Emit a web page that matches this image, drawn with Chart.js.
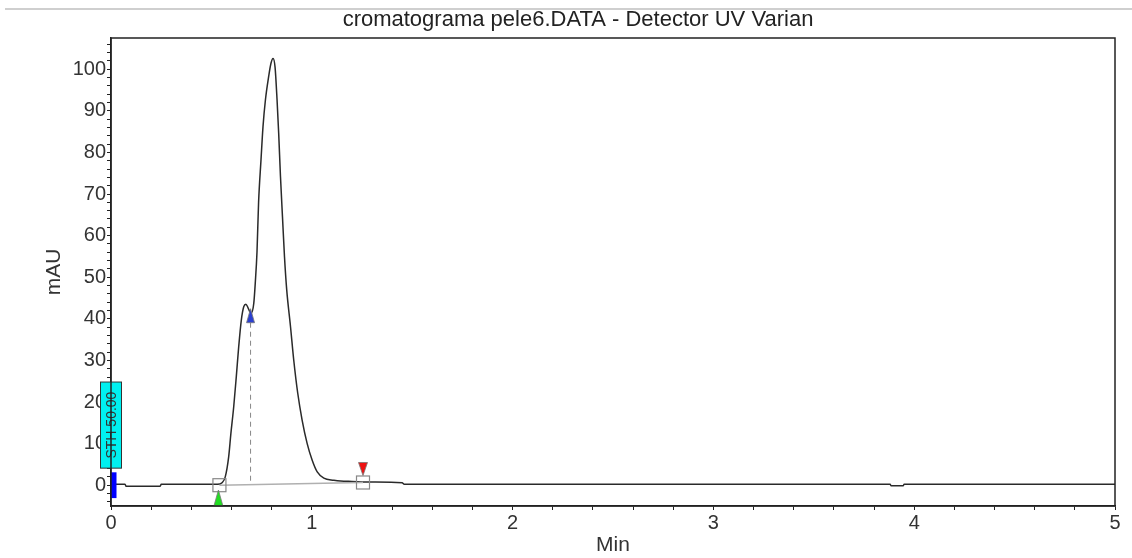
<!DOCTYPE html>
<html>
<head>
<meta charset="utf-8">
<script src="https://cdn.jsdelivr.net/npm/chart.js@4.4.0/dist/chart.umd.min.js"></script>
<style>
html, body { margin: 0; padding: 0; background: #fff; }
#wrap { width: 1132px; height: 558px; }
</style>
</head>
<body>
<div id="wrap"><canvas id="chrom"></canvas></div>
<script>
// retention time (min) and detector signal (mAU)
var times = [0, 0.07, 0.075, 0.245, 0.25, 0.5, 0.53, 0.553, 0.569, 0.586, 0.597, 0.611, 0.624, 0.636, 0.649,
    0.661, 0.672, 0.682, 0.697, 0.711, 0.719, 0.727, 0.735, 0.747, 0.757, 0.769, 0.785, 0.797, 0.807, 0.817,
    0.827, 0.835, 0.844, 0.854, 0.864, 0.875, 0.894, 0.910, 0.930, 0.952, 0.977, 1.002, 1.027, 1.060, 1.110,
    1.143, 1.2, 1.3, 1.45, 1.46, 3.88, 3.885, 3.945, 3.95, 5.0];
var signal = [0.25, 0.25, -0.25, -0.25, 0.2, 0.2, 0.2, 0.6, 2.0, 6.8, 12.4, 18.8, 26.1, 33.3, 39.7,
    42.9, 43.5, 42.7, 41.3, 43.7, 49.0, 56.0, 68.0, 78.2, 86.2, 92.6, 98.2, 101.5, 102.6, 100.5,
    92.6, 84.7, 74.2, 64.5, 54.9, 47.0, 38.1, 30.1, 22.1, 15.6, 10.0, 6.0, 3.2, 1.7, 1.2,
    1.0, 0.9, 0.75, 0.6, 0.25, 0.25, -0.15, -0.15, 0.25, 0.25];

var xLabels = [0, 1, 2, 3, 4, 5];
var yLabels = [0, 10, 20, 30, 40, 50, 60, 70, 80, 90, 100];

// integration events: [time, mAU]
var peakStart = [0.54, 0.0];
var peakSplit = [0.695, 40.5];
var peakEnd = [1.255, 0.65];
var eventTime = 0;
var eventText = 'STH 50.00';
var eventRange = [4.1, 24.8];
var markerRange = [-3.1, 3.1];

var titleText = 'cromatograma pele6.DATA - Detector UV Varian';
var fontFam = '"Liberation Sans", Arial, sans-serif';

var points = times.map(function (t, i) { return { x: t, y: signal[i] }; });

function triangle(ctx, x, tipY, baseY, w, fill) {
    ctx.beginPath();
    ctx.moveTo(x, tipY);
    ctx.lineTo(x - w / 2, baseY);
    ctx.lineTo(x + w / 2, baseY);
    ctx.closePath();
    ctx.fillStyle = fill;
    ctx.fill();
    ctx.strokeStyle = '#777';
    ctx.lineWidth = 0.8;
    ctx.stroke();
}

function square(ctx, x, y) {
    ctx.strokeStyle = '#888';
    ctx.lineWidth = 1.2;
    ctx.strokeRect(x - 6.5, y - 6.5, 13, 13);
}

var decorations = {
    id: 'decorations',
    beforeDraw: function (chart) {
        var ctx = chart.ctx;
        ctx.save();
        ctx.strokeStyle = '#cfcfcf';
        ctx.lineWidth = 2;
        ctx.beginPath();
        ctx.moveTo(5, 9);
        ctx.lineTo(1132, 9);
        ctx.stroke();
        // title
        ctx.fillStyle = '#222';
        ctx.font = '22px ' + fontFam;
        ctx.textAlign = 'center';
        ctx.textBaseline = 'middle';
        ctx.fillText(titleText, 578, 20);
        ctx.restore();
    },
    afterDatasetsDraw: function (chart) {
        var ctx = chart.ctx;
        var xs = chart.scales.x, ys = chart.scales.y;
        var x0 = xs.getPixelForValue(peakStart[0]), y0 = ys.getPixelForValue(peakStart[1]);
        var x1 = xs.getPixelForValue(peakEnd[0]), y1 = ys.getPixelForValue(peakEnd[1]);
        var xm = xs.getPixelForValue(peakSplit[0]), ym = ys.getPixelForValue(peakSplit[1]);
        ctx.save();
        // baseline under the peak
        ctx.strokeStyle = '#b0b0b0';
        ctx.lineWidth = 1.5;
        ctx.beginPath();
        ctx.moveTo(x0, y0);
        ctx.lineTo(x1, y1);
        ctx.stroke();
        // drop line at the split
        var yb = y0 + (y1 - y0) * (xm - x0) / (x1 - x0);
        ctx.setLineDash([5, 4]);
        ctx.strokeStyle = '#888';
        ctx.lineWidth = 1;
        ctx.beginPath();
        ctx.moveTo(xm, ym + 6);
        ctx.lineTo(xm, yb);
        ctx.stroke();
        ctx.setLineDash([]);
        triangle(ctx, xm, ym - 8, ym + 6, 8, '#2a3fd0');
        square(ctx, x0, y0);
        triangle(ctx, x0 - 1, chart.chartArea.bottom - 16, chart.chartArea.bottom, 9, '#22dd22');
        square(ctx, x1, y1);
        triangle(ctx, x1, y1 - 7, y1 - 20, 9, '#ee1111');

        // event box at t = 0
        var xe = xs.getPixelForValue(eventTime);
        var ya = ys.getPixelForValue(eventRange[1]), yz = ys.getPixelForValue(eventRange[0]);
        ctx.fillStyle = '#00f0f0';
        ctx.fillRect(xe - 10.5, ya, 21, yz - ya);
        ctx.strokeStyle = '#333';
        ctx.lineWidth = 1;
        ctx.strokeRect(xe - 10.5, ya, 21, yz - ya);
        ctx.save();
        ctx.translate(xe + 1, (ya + yz) / 2);
        ctx.rotate(-Math.PI / 2);
        ctx.fillStyle = '#333';
        ctx.font = '14px ' + fontFam;
        ctx.textAlign = 'center';
        ctx.textBaseline = 'middle';
        ctx.fillText(eventText, 0, 0);
        ctx.restore();
        ctx.fillStyle = '#0000ff';
        var mb = ys.getPixelForValue(markerRange[0]), mt = ys.getPixelForValue(markerRange[1]);
        ctx.fillRect(xe, mt, 5.5, mb - mt);
        ctx.restore();
    },
    afterDraw: function (chart) {
        var a = chart.chartArea, ctx = chart.ctx;
        ctx.save();
        ctx.strokeStyle = '#222';
        ctx.lineWidth = 1.5;
        ctx.strokeRect(a.left, a.top, a.right - a.left, a.bottom - a.top);
        ctx.restore();
    }
};

new Chart(document.getElementById('chrom'), {
    type: 'line',
    data: {
        datasets: [{
            data: points,
            borderColor: '#2a2a2a',
            borderWidth: 1.5,
            pointRadius: 0,
            cubicInterpolationMode: 'monotone',
            fill: false
        }]
    },
    options: {
        responsive: true,
        maintainAspectRatio: false,
        animation: false,
        layout: { padding: { left: 0, right: 17, top: 38, bottom: 0 } },
        plugins: {
            legend: { display: false },
            tooltip: { enabled: false },
            title: { display: false }
        },
        scales: {
            x: {
                type: 'linear',
                min: 0,
                max: 5,
                afterBuildTicks: function (axis) {
                    var t = [];
                    for (var i = 0; i <= 25; i++) t.push({ value: Math.round(i * 2) / 10 });
                    axis.ticks = t;
                },
                afterFit: function (axis) { axis.height = 52; },
                ticks: {
                    autoSkip: false,
                    maxRotation: 0,
                    padding: 1,
                    color: '#333',
                    font: { family: fontFam, size: 20 },
                    callback: function (v) { return xLabels.indexOf(v) >= 0 ? String(v) : ''; }
                },
                grid: { drawOnChartArea: false, drawTicks: true, tickLength: 4, color: '#222' },
                border: { display: true, color: '#222', width: 1.5 },
                title: {
                    display: true,
                    text: 'Min',
                    color: '#333',
                    font: { family: fontFam, size: 21 },
                    padding: { top: 0, bottom: 0 }
                }
            },
            y: {
                type: 'linear',
                min: -5,
                max: 107.5,
                afterBuildTicks: function (axis) {
                    var t = [];
                    for (var v = -4; v <= 106; v += 2) t.push({ value: v });
                    axis.ticks = t;
                },
                afterFit: function (axis) { axis.width = 111; },
                ticks: {
                    autoSkip: false,
                    padding: 1,
                    color: '#333',
                    font: { family: fontFam, size: 20 },
                    callback: function (v) { return yLabels.indexOf(v) >= 0 ? String(v) : ''; }
                },
                grid: { drawOnChartArea: false, drawTicks: true, tickLength: 4, color: '#222' },
                border: { display: true, color: '#222', width: 1.5 },
                title: {
                    display: true,
                    text: 'mAU',
                    color: '#333',
                    font: { family: fontFam, size: 21 },
                    padding: { top: 42, bottom: 0 }
                }
            }
        }
    },
    plugins: [decorations]
});
</script>
</body>
</html>
